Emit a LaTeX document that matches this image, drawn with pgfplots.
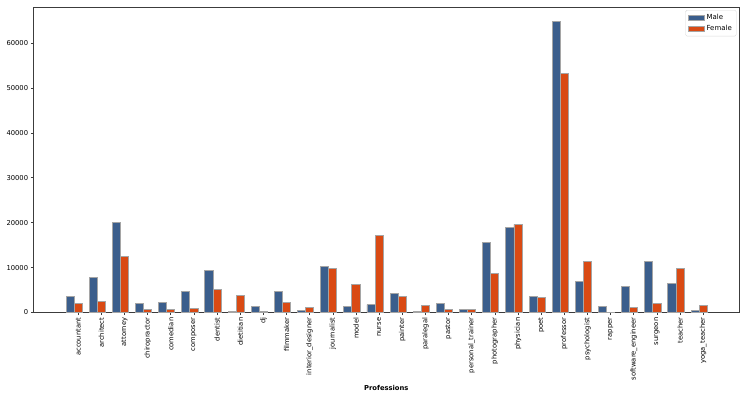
\documentclass[border=0pt]{standalone}
\usepackage{fontspec}
\setmainfont{DejaVu Sans}
\usepackage{pgfplots}
\pgfplotsset{compat=1.18}
\definecolor{male}{RGB}{59,94,140}
\definecolor{female}{RGB}{217,74,20}
\definecolor{edge}{RGB}{165,165,165}
\definecolor{frame}{RGB}{60,60,60}

\begin{document}
\begin{tikzpicture}
\begin{axis}[
    scale only axis,
    width=706bp, height=305.5bp,
    xmin=-1.94, xmax=28.56,
    ymin=0, ymax=68040,
    axis line style={frame, line width=0.7bp},
    xtick={0,...,27},
    xticklabels={accountant, architect, attorney, chiropractor, comedian,
        composer, dentist, dietitian, dj, filmmaker, interior\_designer,
        journalist, model, nurse, painter, paralegal, pastor,
        personal\_trainer, photographer, physician, poet, professor,
        psychologist, rapper, software\_engineer, surgeon, teacher,
        yoga\_teacher},
    ytick={0,10000,20000,30000,40000,50000,60000},
    scaled y ticks=false,
    /pgf/number format/.cd, fixed, 1000 sep={}, assume math mode=true, /pgfplots/.cd,
    tick align=outside,
    tick pos=left,
    major tick length=2.5bp,
    tick style={frame, line width=0.6bp},
    tick label style={font=\fontsize{6.8}{8}\selectfont},
    x tick label style={rotate=90, anchor=east, inner sep=0pt, xshift=-2.5bp},
    y tick label style={inner sep=0pt, xshift=-2.5bp},
    xlabel={\textbf{Professions}},
    xlabel style={font=\fontsize{6.8}{8}\selectfont, at={(0.5,0)}, anchor=center, yshift=-75bp},
    legend style={at={(0.996,0.99)}, anchor=north east, draw=gray!30,
        rounded corners=1.5bp, font=\fontsize{7}{8}\selectfont,
        inner xsep=2.5bp, inner ysep=2bp, row sep=0.3bp, cells={anchor=west}},
    legend image code/.code={
        \draw[#1, sharp corners, line width=0.6bp] (0bp,-2.8bp) rectangle (16bp,2.8bp);},
]
\addplot[ybar, bar width=0.35, bar shift=-0.35, fill=male, draw=edge, line width=0.9bp]
coordinates {
(0,3650) (1,7790) (2,20130) (3,1940) (4,2310) (5,4680) (6,9350)
(7,300) (8,1270) (9,4680) (10,380) (11,10180) (12,1340) (13,1780)
(14,4230) (15,300) (16,1940) (17,750) (18,15680) (19,19020) (20,3650)
(21,64800) (22,6900) (23,1340) (24,5880) (25,11290) (26,6460) (27,380)
};
\addplot[ybar, bar width=0.35, bar shift=0, fill=female, draw=edge, line width=0.9bp]
coordinates {
(0,2090) (1,2450) (2,12470) (3,750) (4,600) (5,890) (6,5120)
(7,3720) (8,200) (9,2310) (10,1200) (11,9890) (12,6240) (13,17240)
(14,3650) (15,1560) (16,600) (17,700) (18,8770) (19,19600) (20,3430)
(21,53310) (22,11360) (23,100) (24,1110) (25,2000) (26,9890) (27,1490)
};
\legend{Male, Female}
\end{axis}
\pgfresetboundingbox
\useasboundingbox ([shift={(-33.3bp,-86.3bp)}]current axis.south west)
    rectangle ([shift={(7.7bp,7bp)}]current axis.north east);
\end{tikzpicture}
\end{document}
